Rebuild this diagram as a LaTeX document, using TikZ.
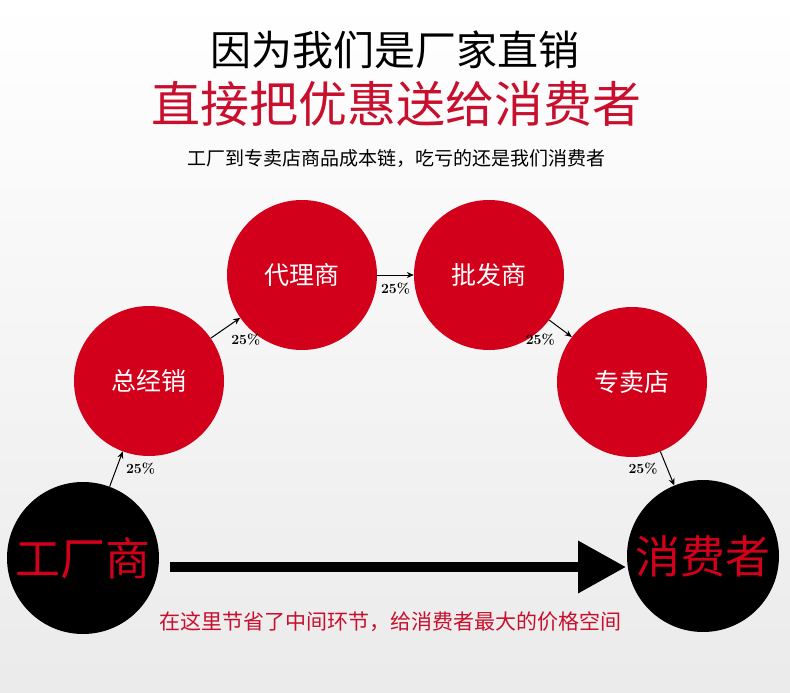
\documentclass[tikz,border=0pt]{standalone}
\usepackage{fontspec}
\newfontfamily\cjk{Noto Sans CJK SC}
\newfontfamily\cjkb{Noto Sans CJK SC Bold}
\usetikzlibrary{arrows.meta}
\definecolor{cred}{HTML}{D2001A}
\definecolor{tred}{HTML}{C8102E}
\begin{document}
\begin{tikzpicture}[x=1pt,y=-1pt,
  rc/.style={circle,fill=cred,minimum size=150pt,inner sep=0pt,text=white,font=\cjk\fontsize{25}{27}\selectfont},
  bc/.style={circle,fill=black,minimum size=152pt,inner sep=0pt,text=cred,font=\cjk\fontsize{45}{48}\selectfont},
  sa/.style={-{Stealth[length=7pt,width=6pt]},line width=1pt},
  pct/.style={font=\bfseries\fontsize{14}{15}\selectfont}]
\useasboundingbox[top color=white,bottom color=black!8] (0,0) rectangle (790,693);
\node[font=\cjk\fontsize{41}{44}\selectfont] (t1) at (395,50) {因为我们是厂家直销};
\node[font=\cjk\fontsize{49}{52}\selectfont,text=tred] (t2) at (396,104) {直接把优惠送给消费者};
\node[font=\cjk\fontsize{19}{21}\selectfont] (t3) at (396,158) {工厂到专卖店商品成本链，吃亏的还是我们消费者};
\node[rc] (a) at (149,381) {总经销};
\node[rc] (b) at (302,275) {代理商};
\node[rc] (c) at (489,275) {批发商};
\node[rc] (d) at (632,382) {专卖店};
\node[bc] (f) at (83,558) {工厂商};
\node[bc] (g) at (703,556) {消费者};
\coordinate (s) at (170,567);
\coordinate (e) at (626,567);
\draw[line width=10pt,-{Triangle[length=48pt,width=50pt]}] (s) -- (e);
\draw[sa] (f) -- (a) node[pct,pos=0.5,right=6pt] {25\%};
\draw[sa] (a) -- (b) node[pct,pos=0.5,below right=2pt] {25\%};
\draw[sa] (b) -- (c) node[pct,pos=0.5,below=4pt] {25\%};
\draw[sa] (c) -- (d) node[pct,pos=0.5,below left=2pt] {25\%};
\draw[sa] (d) -- (g) node[pct,pos=0.5,left=6pt] {25\%};
\node[font=\cjk\fontsize{21}{22}\selectfont,text=tred] (t4) at (390,622) {在这里节省了中间环节，给消费者最大的价格空间};
\end{tikzpicture}
\end{document}
